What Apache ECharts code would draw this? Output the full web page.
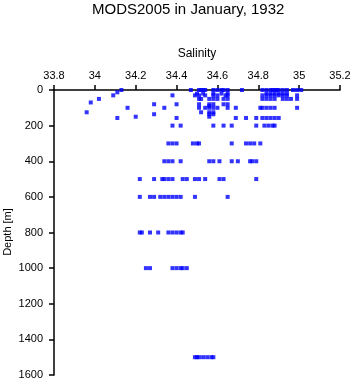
<!DOCTYPE html>
<html>
<head>
<meta charset="utf-8">
<script src="https://cdn.jsdelivr.net/npm/echarts@6/dist/echarts.min.js"></script>
<style>
  html, body { margin: 0; padding: 0; background: #fff; }
  #chart { width: 353px; height: 384px; }
</style>
</head>
<body>
<div id="chart"></div>
<script>
// depth levels (m) and the salinity readings found at each level
const depthLevels = [0, 13, 20, 30, 50, 70, 80, 90, 100, 125, 136, 150, 157, 200, 300, 400, 500, 600, 800, 1000, 1500];
const salinityByLevel = [
    [34.13, 34.47, 34.51, 34.52, 34.53, 34.54, 34.58, 34.60, 34.62, 34.63, 34.65, 34.72, 34.82, 34.84, 34.86, 34.87, 34.88, 34.89, 34.90, 34.92, 34.94, 34.97, 34.99, 35.01],
    [34.11],
    [34.50, 34.53, 34.58, 34.62, 34.65, 34.84, 34.86, 34.88, 34.90, 34.92, 34.94],
    [34.09, 34.38, 34.49, 34.51, 34.54, 34.58, 34.60, 34.64, 34.65, 34.82, 34.84, 34.86, 34.88, 34.90, 34.92, 34.94, 34.99],
    [34.02, 34.51, 34.52, 34.56, 34.58, 34.60, 34.63, 34.65, 34.82, 34.84, 34.86, 34.88, 34.92, 34.94, 34.96, 34.99],
    [33.98],
    [34.29, 34.40, 34.51, 34.56, 34.58, 34.63, 34.65],
    [34.56],
    [34.16, 34.34, 34.51, 34.54, 34.56, 34.58, 34.60, 34.65, 34.69, 34.81, 34.82, 34.84, 34.86, 34.88, 34.99],
    [33.96, 34.52, 34.56, 34.58],
    [34.29, 34.56, 34.58],
    [34.20, 34.56],
    [34.11, 34.40, 34.69, 34.74, 34.79, 34.82, 34.84, 34.86, 34.88, 34.90],
    [34.38, 34.42, 34.58, 34.63, 34.67, 34.79, 34.83, 34.85, 34.87, 34.88],
    [34.36, 34.38, 34.40, 34.48, 34.50, 34.51, 34.67, 34.74, 34.76, 34.78, 34.81],
    [34.34, 34.36, 34.38, 34.42, 34.56, 34.58, 34.61, 34.67, 34.70, 34.76, 34.77, 34.79],
    [34.22, 34.29, 34.33, 34.34, 34.36, 34.38, 34.43, 34.45, 34.49, 34.51, 34.54, 34.61, 34.63, 34.79],
    [34.22, 34.27, 34.29, 34.32, 34.34, 34.36, 34.38, 34.40, 34.42, 34.49, 34.65],
    [34.22, 34.23, 34.27, 34.31, 34.36, 34.38, 34.40, 34.42, 34.43],
    [34.25, 34.27, 34.38, 34.40, 34.42, 34.43, 34.45],
    [34.49, 34.50, 34.51, 34.53, 34.55, 34.57, 34.58]
];

let points = [];
depthLevels.forEach(function (d, i) {
    salinityByLevel[i].forEach(function (s) {
        points.push([s, d]);
    });
});

let chart = echarts.init(document.getElementById('chart'));
const font = 'Liberation Sans, Arial, sans-serif';

let option = {
    animation: false,
    title: {
        text: 'MODS2005 in January, 1932',
        left: 92,
        top: 2,
        padding: 0,
        textStyle: { fontFamily: font, fontSize: 15, fontWeight: 'normal', color: '#000' }
    },
    // y axis name drawn by hand, the built-in one gets pushed off the canvas
    graphic: [{
        type: 'text',
        x: 8,
        y: 232,
        rotation: Math.PI / 2,
        style: {
            text: 'Depth [m]',
            fontFamily: font,
            fontSize: 11,
            fill: '#000',
            textAlign: 'center',
            textVerticalAlign: 'middle'
        }
    }],
    grid: { left: 54, top: 90, right: 13, bottom: 9, containLabel: false, outerBoundsMode: 'none' },
    xAxis: {
        type: 'value',
        position: 'top',
        min: 33.8,
        max: 35.2,
        interval: 0.2,
        name: 'Salinity',
        nameLocation: 'middle',
        nameGap: 30,
        nameMoveOverlap: false,
        nameTextStyle: { fontFamily: font, fontSize: 12, color: '#000' },
        axisLine: { show: true, onZero: false, lineStyle: { color: '#000', width: 1.5 } },
        axisTick: { show: true, length: 5, lineStyle: { color: '#000', width: 1.5 } },
        axisLabel: { fontFamily: font, fontSize: 11, color: '#000', margin: 9,
            showMinLabel: true, showMaxLabel: true },
        splitLine: { show: false }
    },
    yAxis: {
        type: 'value',
        inverse: true,
        min: 0,
        max: 1600,
        interval: 200,
        axisLine: { show: true, onZero: false, lineStyle: { color: '#000', width: 1.5 } },
        axisTick: { show: true, length: 5, lineStyle: { color: '#000', width: 1.5 } },
        axisLabel: { fontFamily: font, fontSize: 11, color: '#000', margin: 11,
            showMinLabel: true, showMaxLabel: true,
            formatter: function (v) { return String(v); } },
        splitLine: { show: false }
    },
    series: [{
        type: 'scatter',
        symbol: 'rect',
        symbolSize: 4,
        itemStyle: { color: '#0000ff' },
        data: points
    }]
};

chart.setOption(option);
</script>
</body>
</html>
